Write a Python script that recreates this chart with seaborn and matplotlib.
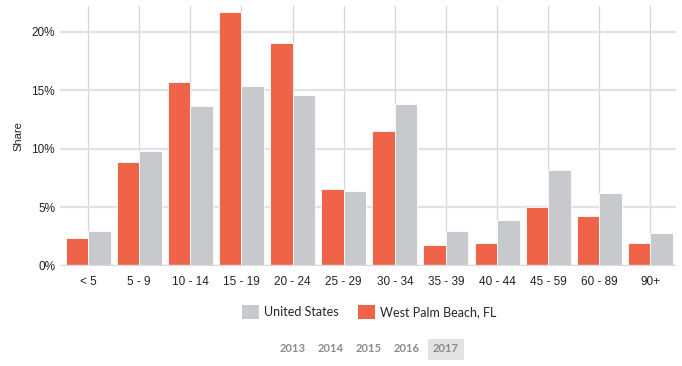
import pandas as pd
import matplotlib.pyplot as plt
import seaborn as sns
from matplotlib.patches import Patch
from matplotlib.ticker import PercentFormatter

# Age groups and share (%) per place
age_groups = ["< 5", "5 - 9", "10 - 14", "15 - 19", "20 - 24", "25 - 29",
              "30 - 34", "35 - 39", "40 - 44", "45 - 59", "60 - 89", "90+"]
wpb_share = [2.4, 8.9, 15.7, 21.7, 19.0, 6.6, 11.5, 1.8, 2.0, 5.0, 4.3, 2.0]
us_share = [3.0, 9.8, 13.7, 15.4, 14.6, 6.4, 13.8, 3.0, 3.9, 8.2, 6.2, 2.8]
years = ["2013", "2014", "2015", "2016", "2017"]

red = "#EF6348"
grey = "#C8C9CC"

df = pd.DataFrame({
    "age": age_groups * 2,
    "share": wpb_share + us_share,
    "place": ["West Palm Beach, FL"] * len(age_groups) + ["United States"] * len(age_groups),
})

sns.set_style("white")
plt.rcParams["font.family"] = ["Liberation Sans", "DejaVu Sans"]

fig = plt.figure(figsize=(6.82, 3.66), dpi=100)
ax = fig.add_axes([60 / 682, 100 / 366, 616 / 682, 260 / 366])

sns.barplot(data=df, x="age", y="share", hue="place", order=age_groups,
            hue_order=["West Palm Beach, FL", "United States"],
            palette=[red, grey], saturation=1, width=0.88, edgecolor="white",
            linewidth=0.6, ax=ax, legend=False, zorder=3)

ax.set_xlim(-0.55, len(age_groups) - 0.5)
ax.set_ylim(0, 22.2)
ax.set_yticks([0, 5, 10, 15, 20])
ax.yaxis.set_major_formatter(PercentFormatter(decimals=0))
ax.grid(axis="y", color="#E2E2E2", linewidth=1.6, zorder=0)
ax.grid(axis="x", color="#D6D6D6", linewidth=0.9, zorder=0)
ax.axhline(0, color="#DADADA", linewidth=2.5, zorder=4)
for s in ax.spines.values():
    s.set_visible(False)
ax.tick_params(axis="both", length=0, labelsize=8.5, colors="#222222")
ax.tick_params(axis="x", pad=7)
ax.set_xlabel("")
ax.set_ylabel("Share", fontsize=8, color="#222222", labelpad=6)

handles = [Patch(facecolor=grey, edgecolor="none"), Patch(facecolor=red, edgecolor="none")]
fig.legend(handles, ["United States", "West Palm Beach, FL"], loc="center",
           bbox_to_anchor=(369 / 682, 1 - 312 / 366), ncol=2, frameon=False,
           handlelength=1.4, handleheight=1.4, handletextpad=0.4, columnspacing=1.5,
           prop={"family": "Lato", "size": 9})

# year selector row
year_x = [280, 318, 356, 394, 433]
for yr, xp in zip(years, year_x):
    kw = {}
    if yr == "2017":
        kw["bbox"] = dict(boxstyle="square,pad=0.45", facecolor="#E3E3E3", edgecolor="none")
    fig.text(xp / 682, 1 - 349 / 366, yr, ha="left", va="center", fontsize=8,
             fontweight="bold", color="#8A8A8A", family="Lato", **kw)

plt.savefig("out.png", dpi=100)
